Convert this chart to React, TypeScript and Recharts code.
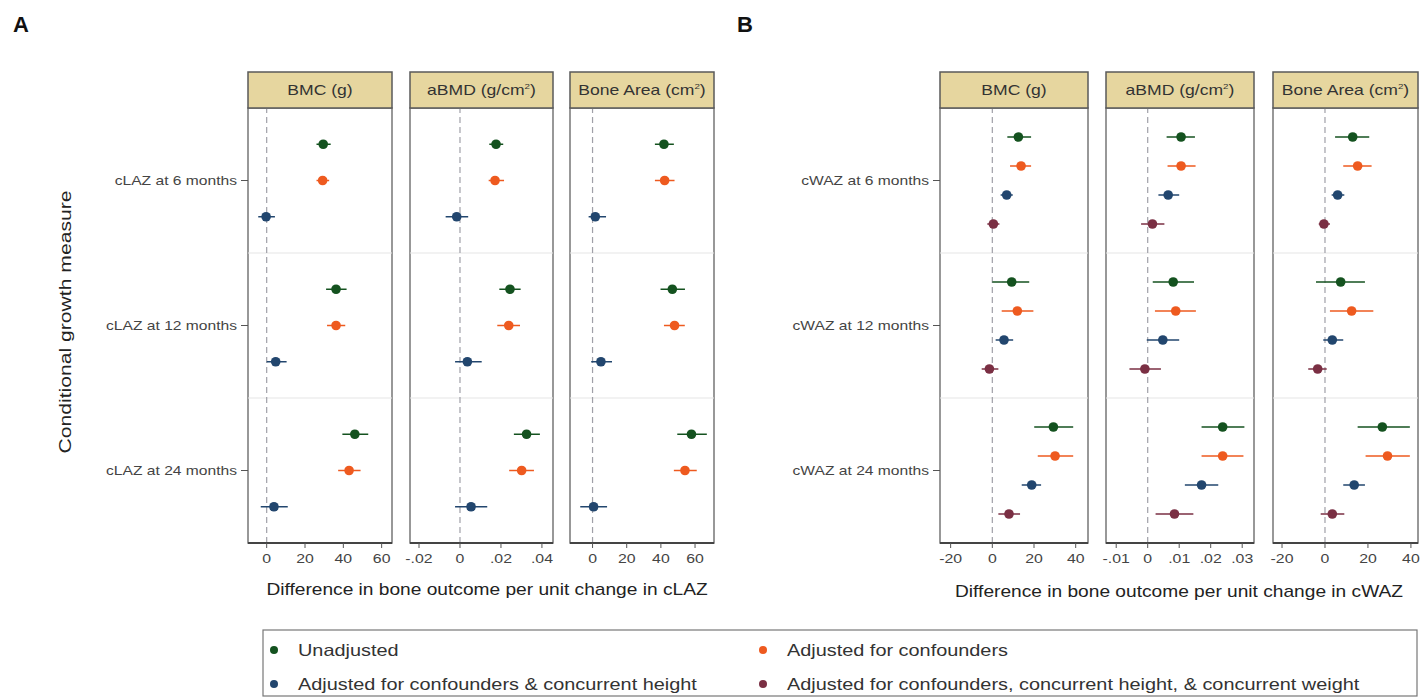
import { ScatterChart, Scatter, XAxis, YAxis, ErrorBar, ReferenceLine, ReferenceArea } from "recharts";

const FONT = '"Liberation Sans", Arial, sans-serif';
const SX = 1.22; // the source figure is drawn wide, so text is stretched a bit

const lazRows = ["cLAZ at 6 months", "cLAZ at 12 months", "cLAZ at 24 months"];
const wazRows = ["cWAZ at 6 months", "cWAZ at 12 months", "cWAZ at 24 months"];
const seriesNames = [
  "Unadjusted",
  "Adjusted for confounders",
  "Adjusted for confounders & concurrent height",
  "Adjusted for confounders, concurrent height, & concurrent weight",
];
const seriesColors = ["#14521f", "#ee5a1f", "#22466e", "#7a2f43"];

// rows: series, columns: 6 / 12 / 24 months
const lazBmcEst = [[29.5, 36.2, 46.0], [29.2, 36.2, 43.0], [-0.3, 4.7, 3.8]];
const lazBmcLo = [[26.0, 31.0, 39.5], [26.0, 31.5, 37.3], [-4.4, 0.0, -3.1]];
const lazBmcHi = [[33.4, 41.7, 53.0], [32.6, 41.0, 49.0], [4.3, 10.4, 11.0]];

const lazBmdEst = [[0.0176, 0.0244, 0.0325], [0.0171, 0.0238, 0.0301], [-0.0016, 0.0036, 0.0054]];
const lazBmdLo = [[0.0143, 0.0192, 0.0263], [0.014, 0.0182, 0.024], [-0.007, -0.0024, -0.0024]];
const lazBmdHi = [[0.0211, 0.0296, 0.039], [0.0215, 0.0293, 0.0361], [0.004, 0.0106, 0.0133]];

const lazAreaEst = [[41.8, 46.7, 57.9], [42.2, 48.0, 54.1], [1.6, 4.9, 0.6]];
const lazAreaLo = [[36.5, 39.8, 49.6], [36.5, 41.8, 47.6], [-2.3, -0.8, -7.2]];
const lazAreaHi = [[47.6, 54.1, 66.9], [48.0, 54.0, 61.0], [7.9, 11.4, 8.5]];

const wazBmcEst = [[12.5, 9.3, 29.3], [13.8, 12.0, 30.1], [6.9, 5.6, 18.9], [0.5, -1.4, 8.0]];
const wazBmcLo = [[7.2, 0.0, 20.1], [8.5, 4.5, 21.8], [4.0, 1.6, 14.1], [-2.4, -5.1, 2.9]];
const wazBmcHi = [[18.6, 17.7, 38.8], [18.6, 19.7, 38.8], [9.8, 10.0, 23.4], [3.4, 2.9, 13.3]];

const wazBmdEst = [[0.0106, 0.0081, 0.0238], [0.0106, 0.0089, 0.0238], [0.0065, 0.0048, 0.0171], [0.0015, -0.0009, 0.0085]];
const wazBmdLo = [[0.006, 0.0016, 0.0171], [0.0063, 0.0023, 0.0171], [0.0034, -0.0003, 0.0118], [-0.0021, -0.0058, 0.0025]];
const wazBmdHi = [[0.015, 0.0147, 0.0307], [0.0152, 0.0153, 0.0304], [0.01, 0.01, 0.0224], [0.0053, 0.0042, 0.0145]];

const wazAreaEst = [[12.9, 7.3, 26.7], [15.2, 12.4, 29.1], [5.9, 3.4, 13.6], [-0.5, -3.4, 3.4]];
const wazAreaLo = [[4.7, -4.2, 15.2], [8.5, 2.3, 18.9], [3.1, -0.8, 8.5], [-2.9, -7.8, -2.0]];
const wazAreaHi = [[20.6, 18.6, 39.5], [21.7, 22.5, 39.5], [9.0, 8.5, 18.6], [2.3, 0.8, 9.0]];

const ticks6020 = [0, 20, 40, 60];
const ticks4020 = [-20, 0, 20, 40];
const ticksBmdA = [-0.02, 0, 0.02, 0.04];
const ticksBmdB = [-0.01, 0, 0.01, 0.02, 0.03];

const offsetsA = [-0.25, 0, 0.25];
const offsetsB = [-0.3, -0.1, 0.1, 0.3];

const PLOT_TOP = 108;
const PLOT_H = 435;
const STRIP_H = 36;

const fmt = (v: number) => (v === 0 ? "0" : String(v).replace("0.", "."));

type Facet = {
  title: string;
  sup?: boolean;
  est: number[][];
  lo: number[][];
  hi: number[][];
  domain: [number, number];
  ticks: number[];
  left: number;
  width: number;
};

const panelA: Facet[] = [
  { title: "BMC (g)", est: lazBmcEst, lo: lazBmcLo, hi: lazBmcHi, domain: [-9.75, 65.4], ticks: ticks6020, left: 248, width: 144 },
  { title: "aBMD (g/cm", sup: true, est: lazBmdEst, lo: lazBmdLo, hi: lazBmdHi, domain: [-0.0244, 0.0454], ticks: ticksBmdA, left: 410, width: 143 },
  { title: "Bone Area (cm", sup: true, est: lazAreaEst, lo: lazAreaLo, hi: lazAreaHi, domain: [-13.2, 71.1], ticks: ticks6020, left: 570, width: 144 },
];

const panelB: Facet[] = [
  { title: "BMC (g)", est: wazBmcEst, lo: wazBmcLo, hi: wazBmcHi, domain: [-25.1, 45.9], ticks: ticks4020, left: 940, width: 148 },
  { title: "aBMD (g/cm", sup: true, est: wazBmdEst, lo: wazBmdLo, hi: wazBmdHi, domain: [-0.01324, 0.03375], ticks: ticksBmdB, left: 1106, width: 148 },
  { title: "Bone Area (cm", sup: true, est: wazAreaEst, lo: wazAreaLo, hi: wazAreaHi, domain: [-24.2, 43.3], ticks: ticks4020, left: 1273, width: 145 },
];

function XTick(props: any) {
  const { x, y, payload } = props;
  return (
    <g transform={`translate(${x},${y})`}>
      <text transform={`scale(${SX},1)`} textAnchor="middle" dy="0.71em" fontSize={13} fill="#444" fontFamily={FONT}>
        {fmt(payload.value)}
      </text>
    </g>
  );
}

function YTick(props: any) {
  const { x, y, payload, labels } = props;
  return (
    <g transform={`translate(${x},${y})`}>
      <text transform={`scale(${SX},1)`} textAnchor="end" dy="0.35em" fontSize={12.8} fill="#444" fontFamily={FONT}>
        {labels[payload.value]}
      </text>
    </g>
  );
}

function FacetChart({ facet, offsets, rows, showY }: { facet: Facet; offsets: number[]; rows: string[]; showY: boolean }) {
  const yW = showY ? 200 : 0;
  const mL = showY ? 2 : 16;
  const mR = 8;
  const mT = 2;
  const xH = 40;
  const w = yW + mL + facet.width + mR;
  const h = mT + PLOT_H + xH;
  return (
    <div style={{ position: "absolute", left: facet.left - yW - mL, top: PLOT_TOP - mT, width: w, height: h }}>
      <ScatterChart width={w} height={h} margin={{ top: mT, right: mR, bottom: 0, left: mL }}>
        <XAxis
          type="number"
          dataKey="x"
          domain={facet.domain}
          allowDataOverflow
          ticks={facet.ticks}
          interval={0}
          height={xH}
          axisLine={{ stroke: "#444", strokeWidth: 2 }}
          tickLine={{ stroke: "#555" }}
          tickSize={5}
          tickMargin={6}
          tick={<XTick />}
        />
        <YAxis
          type="number"
          dataKey="y"
          domain={[-0.5, 2.5]}
          reversed
          allowDataOverflow
          ticks={[0, 1, 2]}
          interval={0}
          width={yW}
          hide={!showY}
          axisLine={false}
          tickLine={{ stroke: "#555" }}
          tickSize={7}
          tickMargin={4}
          tick={(p: any) => <YTick {...p} labels={rows} />}
        />
        <ReferenceArea
          x1={facet.domain[0]}
          x2={facet.domain[1]}
          y1={-0.5}
          y2={2.5}
          fill="none"
          stroke="#777"
          strokeWidth={1.5}
          ifOverflow="visible"
        />
        <ReferenceLine y={0.5} stroke="#e6e6e6" strokeWidth={1.2} />
        <ReferenceLine y={1.5} stroke="#e6e6e6" strokeWidth={1.2} />
        <ReferenceLine x={0} stroke="#a0a0a8" strokeDasharray="6 4" strokeWidth={1.2} />
        {offsets.map((off, s) => {
          const data = rows.map((_, i) => ({
            x: facet.est[s][i],
            y: i + off,
            err: [facet.est[s][i] - facet.lo[s][i], facet.hi[s][i] - facet.est[s][i]],
          }));
          return (
            <Scatter
              key={s}
              name={seriesNames[s]}
              data={data}
              fill={seriesColors[s]}
              isAnimationActive={false}
              shape={(p: any) => <circle cx={p.cx} cy={p.cy} r={4.8} fill={seriesColors[s]} />}
            >
              <ErrorBar dataKey="err" direction="x" width={0} stroke={seriesColors[s]} strokeWidth={1.5} />
            </Scatter>
          );
        })}
      </ScatterChart>
    </div>
  );
}

function Strip({ facet }: { facet: Facet }) {
  const cx = facet.left + facet.width / 2;
  return (
    <g>
      <rect x={facet.left} y={PLOT_TOP - STRIP_H} width={facet.width} height={STRIP_H} fill="#e6d69f" stroke="#5a5a5a" strokeWidth={1.5} />
      <text
        transform={`translate(${cx},${PLOT_TOP - STRIP_H / 2 + 5}) scale(${SX},1)`}
        textAnchor="middle"
        fontSize={14.4}
        fill="#333"
        fontFamily={FONT}
      >
        {facet.title}
        {facet.sup ? (
          <>
            <tspan dy={-6} fontSize={8}>2</tspan>
            <tspan dy={6}>)</tspan>
          </>
        ) : null}
      </text>
    </g>
  );
}

function LegendItem({ x, y, i }: { x: number; y: number; i: number }) {
  return (
    <g>
      <circle cx={x} cy={y} r={4} fill={seriesColors[i]} />
      <text transform={`translate(${x + 24},${y + 6}) scale(${SX},1)`} fontSize={16.3} fill="#333" fontFamily={FONT}>
        {seriesNames[i]}
      </text>
    </g>
  );
}

export default function App() {
  return (
    <div style={{ position: "absolute", left: 0, top: 0, width: 1423, height: 700, background: "#fff", fontFamily: FONT }}>
      {panelA.map((f, k) => (
        <FacetChart key={"a" + k} facet={f} offsets={offsetsA} rows={lazRows} showY={k === 0} />
      ))}
      {panelB.map((f, k) => (
        <FacetChart key={"b" + k} facet={f} offsets={offsetsB} rows={wazRows} showY={k === 0} />
      ))}
      <svg width={1423} height={700} style={{ position: "absolute", left: 0, top: 0, pointerEvents: "none" }}>
        <text x={13} y={32} fontSize={22} fontWeight="bold" fill="#111" fontFamily={FONT}>A</text>
        <text x={737} y={32} fontSize={22} fontWeight="bold" fill="#111" fontFamily={FONT}>B</text>
        {panelA.map((f, k) => <Strip key={"sa" + k} facet={f} />)}
        {panelB.map((f, k) => <Strip key={"sb" + k} facet={f} />)}
        <text
          transform="translate(71,322) rotate(-90)"
          textAnchor="middle"
          fontSize={17}
          textLength={263}
          lengthAdjust="spacingAndGlyphs"
          fill="#222"
          fontFamily={FONT}
        >
          Conditional growth measure
        </text>
        <text transform={`translate(487,595) scale(${SX},1)`} textAnchor="middle" fontSize={15.7} fill="#222" fontFamily={FONT}>
          Difference in bone outcome per unit change in cLAZ
        </text>
        <text transform={`translate(1179,597) scale(${SX},1)`} textAnchor="middle" fontSize={15.7} fill="#222" fontFamily={FONT}>
          Difference in bone outcome per unit change in cWAZ
        </text>
        <rect x={263} y={630} width={1154} height={66} fill="#fff" stroke="#777" strokeWidth={1.2} />
        <LegendItem x={274} y={650} i={0} />
        <LegendItem x={763} y={650} i={1} />
        <LegendItem x={274} y={684} i={2} />
        <LegendItem x={763} y={684} i={3} />
      </svg>
    </div>
  );
}
